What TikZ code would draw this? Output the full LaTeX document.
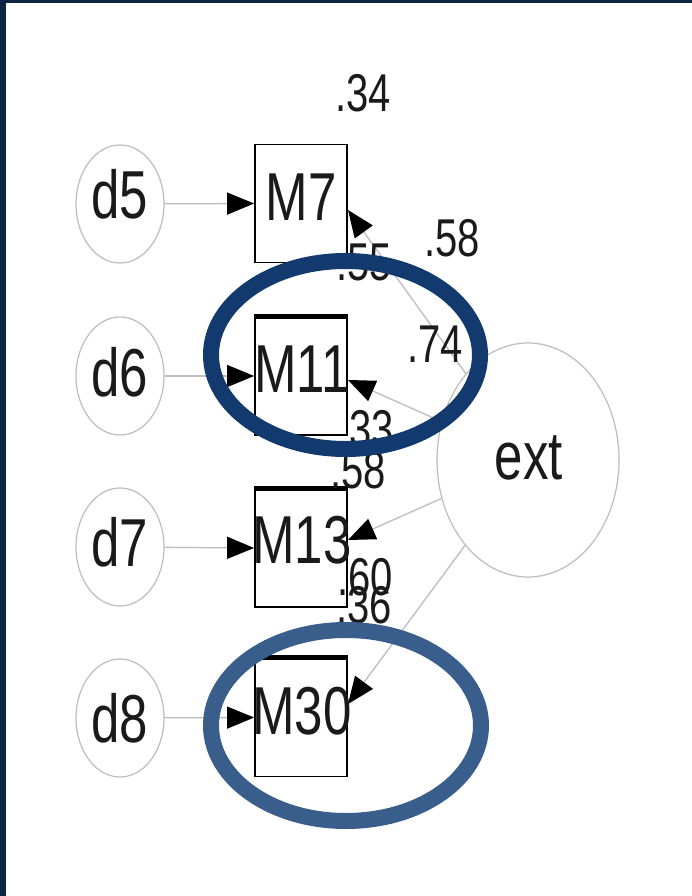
\documentclass[tikz,border=0pt]{standalone}
\usepackage{fontspec}
\setmainfont{Liberation Sans}
\usetikzlibrary{arrows.meta,shapes.geometric}
\definecolor{navyband}{HTML}{0F2442}
\definecolor{ringA}{HTML}{133A6E}
\definecolor{ringB}{HTML}{3A5E8C}
\definecolor{faint}{HTML}{BDBDBD}
\definecolor{inktext}{HTML}{1A1A1A}
\newcommand{\stretchtxt}[1]{\scalebox{1}[1.33]{#1}}
\tikzset{
  errnode/.style={ellipse, draw=faint, line width=1.2pt, minimum width=88pt, minimum height=118pt, inner sep=0pt},
  latnode/.style={ellipse, draw=faint, line width=1.2pt, minimum width=182pt, minimum height=234pt, inner sep=0pt},
  obsbox/.style={rectangle, draw=black, line width=1.8pt, minimum width=92pt, minimum height=118pt, inner sep=0pt},
  bigtxt/.style={font=\fontsize{51}{51}\selectfont, inner sep=0pt, text=inktext},
  coef/.style={font=\fontsize{40}{40}\selectfont, inner sep=0pt, text=inktext},
  link/.style={draw=faint, line width=1.3pt, -{Triangle[length=27pt,width=22pt,color=black,fill=black]}},
  thicktop/.style={line width=5pt, black},
  ring/.style={line width=16pt}
}
\begin{document}
\begin{tikzpicture}[x=1pt,y=-1pt]
\useasboundingbox (0,0) rectangle (692,896);
\fill[white] (0,0) rectangle (692,896);
\fill[navyband] (0,0) rectangle (6,896);
\fill[navyband] (0,0) rectangle (692,3);

% error circles
\node[errnode] (d5) at (120,204) {};
\node[errnode] (d6) at (120,376) {};
\node[errnode] (d7) at (120,547) {};
\node[errnode] (d8) at (120,718) {};
\node[bigtxt] (d5t) at (120,194) {\stretchtxt{d5}};
\node[bigtxt] (d6t) at (120,372) {\stretchtxt{d6}};
\node[bigtxt] (d7t) at (120,542) {\stretchtxt{d7}};
\node[bigtxt] (d8t) at (120,718) {\stretchtxt{d8}};

% observed boxes
\node[obsbox] (M7) at (301,203.5) {};
\node[obsbox] (M11) at (301,376) {};
\node[obsbox] (M13) at (301,548) {};
\node[obsbox] (M30) at (301,717.5) {};
\draw[thicktop] (M11.north west) -- (M11.north east);
\draw[thicktop] (M13.north west) -- (M13.north east);
\draw[thicktop] (M30.north west) -- (M30.north east);
\node[bigtxt] (M7t) at (301,197) {\stretchtxt{M7}};
\node[bigtxt] (M11t) at (302,369) {\stretchtxt{M11}};
\node[bigtxt] (M13t) at (302,540) {\stretchtxt{M13}};
\node[bigtxt] (M30t) at (302,711) {\stretchtxt{M30}};

% latent
\node[latnode] (ext) at (528,460) {};
\node[bigtxt] (extt) at (529,458) {\stretchtxt{ext}};

% error arrows
\draw[link] (d5) -- (M7.west);
\draw[link] (d6) -- (M11.west);
\draw[link] (d7) -- (M13.west);
\draw[link] (d8) -- (M30.west);

% loading arrows
\coordinate (p7) at (348,210);
\coordinate (p11) at (348,380);
\coordinate (p13) at (348,540);
\coordinate (p30) at (348,704);
\draw[link] (ext) -- (p7);
\draw[link] (ext) -- (p11);
\draw[link] (ext) -- (p13);
\draw[link] (ext) -- (p30);

% coefficients
\node[coef] (c34) at (363,93) {\stretchtxt{.34}};
\node[coef] (c58a) at (452,238) {\stretchtxt{.58}};
\node[coef] (c55) at (364,262) {\stretchtxt{.55}};
\node[coef] (c74) at (435,344) {\stretchtxt{.74}};
\node[coef] (c33) at (366,429) {\stretchtxt{.33}};
\node[coef] (c58b) at (358,470) {\stretchtxt{.58}};
\node[coef] (c60) at (365,577) {\stretchtxt{.60}};
\node[coef] (c36) at (364,605) {\stretchtxt{.36}};

% highlight rings
\draw[ringA, ring] (345.5,355) ellipse [x radius=134.5, y radius=94];
\draw[ringB, ring] (346,725.5) ellipse [x radius=135, y radius=95.5];
\end{tikzpicture}
\end{document}
